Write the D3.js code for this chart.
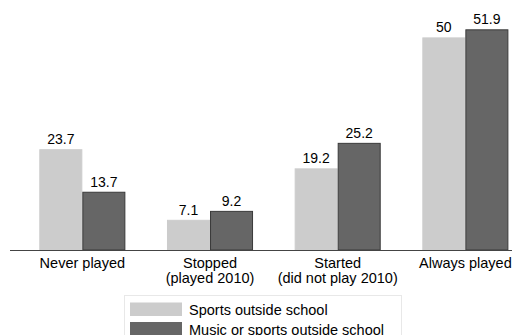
<!DOCTYPE html>
<html>
<head>
<meta charset="utf-8">
<script src="https://cdn.jsdelivr.net/npm/d3@7"></script>
<style>
  body { margin: 0; background: #fff; }
  svg { display: block; font-family: "Liberation Sans", Arial, sans-serif; }
</style>
</head>
<body>
<div id="chart"></div>
<script>
// data
var categories = [["Never played"], ["Stopped", "(played 2010)"], ["Started", "(did not play 2010)"], ["Always played"]];
var seriesNames = ["Sports outside school", "Music or sports outside school"];
var sports = [23.7, 7.1, 19.2, 50];
var musicOrSports = [13.7, 9.2, 25.2, 51.9];

var fills = ["#cccccc", "#666666"];
var strokes = ["#cccccc", "#3a3a3a"];

var width = 512, height = 335;
var baseY = 250;

var svg = d3.select("#chart").append("svg")
    .attr("width", width)
    .attr("height", height);

var x0 = d3.scaleBand()
    .domain(d3.range(categories.length))
    .range([18.5, 529.2])
    .paddingInner(0.326)
    .paddingOuter(0.163);

var x1 = d3.scaleBand()
    .domain([0, 1])
    .range([0, x0.bandwidth()]);

var y = d3.scaleLinear()
    .domain([0, 60])
    .range([baseY, baseY - 60 * 4.252]);

var series = [sports, musicOrSports];

series.forEach(function(vals, s) {
    var g = svg.append("g");
    g.selectAll("rect")
        .data(vals)
        .enter()
        .append("rect")
        .attr("x", (d, i) => x0(i) + x1(s) + 0.5)
        .attr("y", d => y(d) + 0.5)
        .attr("width", x1.bandwidth() - 1)
        .attr("height", d => baseY - y(d) - 0.5)
        .attr("fill", fills[s])
        .attr("stroke", strokes[s])
        .attr("stroke-width", 1);

    g.selectAll("text")
        .data(vals)
        .enter()
        .append("text")
        .attr("x", (d, i) => x0(i) + x1(s) + x1.bandwidth() / 2)
        .attr("y", d => y(d) - 5)
        .attr("text-anchor", "middle")
        .style("font-size", "14px")
        .attr("fill", "#000")
        .text(d => d);
});

// axis line
svg.append("line")
    .attr("x1", 10)
    .attr("x2", width)
    .attr("y1", baseY + 0.5)
    .attr("y2", baseY + 0.5)
    .attr("stroke", "#444")
    .attr("stroke-width", 1.2);

// category labels
var labels = svg.selectAll(".cat")
    .data(categories)
    .enter()
    .append("text")
    .attr("class", "cat")
    .attr("text-anchor", "middle")
    .style("font-size", "14.5px")
    .attr("fill", "#000");

labels.each(function(lines, i) {
    var t = d3.select(this);
    lines.forEach(function(line, j) {
        t.append("tspan")
            .attr("x", x0(i) + x0.bandwidth() / 2)
            .attr("y", 267.5 + j * 15)
            .text(line);
    });
});

// legend
var legend = svg.append("g").attr("transform", "translate(124,295.5)");
legend.append("rect")
    .attr("x", 0.5)
    .attr("y", 0)
    .attr("width", 277)
    .attr("height", 60)
    .attr("fill", "#fff")
    .attr("stroke", "#e8e8e8");

seriesNames.forEach(function(name, s) {
    legend.append("rect")
        .attr("x", 6)
        .attr("y", 7 + s * 19.5)
        .attr("width", 52)
        .attr("height", 13.5)
        .attr("fill", fills[s]);
    legend.append("text")
        .attr("x", 65)
        .attr("y", 19.5 + s * 19.5)
        .style("font-size", "14.5px")
        .attr("fill", "#000")
        .text(name);
});
</script>
</body>
</html>
